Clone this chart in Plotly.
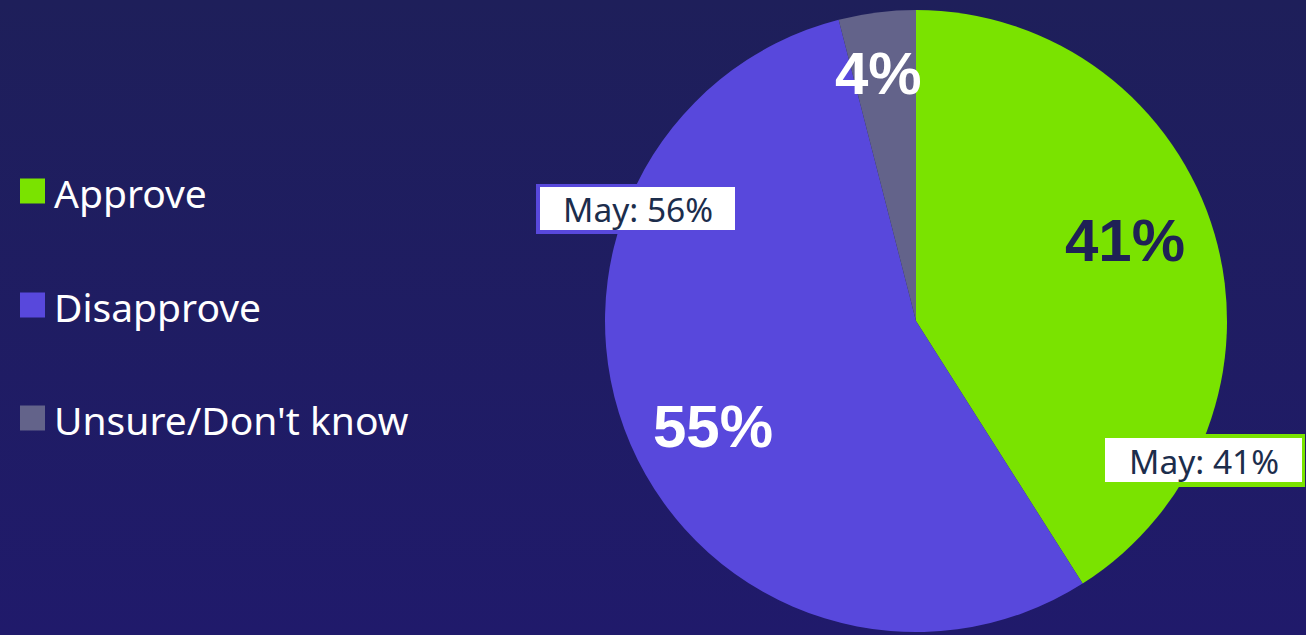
import base64
import plotly.graph_objects as go

W, H = 1306, 635

# ---- data ----
labels = ["Approve", "Disapprove", "Unsure/Don't know"]
values = [41, 55, 4]
pct_text = ["41%", "55%", "4%"]
prior_labels = ["May: 41%", "May: 56%"]

# ---- style ----
colors = ["#7ae300", "#5848dc", "#63638a"]
pct_colors = ["#1f2155", "#ffffff", "#ffffff"]
bg_top, bg_bottom = "#1e1f5a", "#201a6b"

def px(x):
    return x / W

def py(y):
    return 1 - y / H

cx, cy, R = 916, 321, 311

fig = go.Figure()
fig.add_trace(go.Pie(
    labels=labels, values=values, sort=False, direction="clockwise", rotation=0,
    marker=dict(colors=colors, line=dict(width=0)),
    textinfo="none", hoverinfo="label+percent", showlegend=False,
    domain=dict(x=[px(cx - R), px(cx + R)], y=[py(cy + R), py(cy - R)]),
))

annotations = []
shapes = []

# percent labels (positions in px)
pct_pos = [(1125, 240), (713, 426), (878, 73)]
for t, c, (x, y) in zip(pct_text, pct_colors, pct_pos):
    annotations.append(dict(x=px(x), y=py(y), xref="paper", yref="paper", text=t,
                            showarrow=False, xanchor="center", yanchor="middle",
                            font=dict(family="Liberation Sans", size=60, color=c, weight="bold")))

# legend (manual)
leg_y = [191, 305, 418]
for lab, col, y in zip(labels, colors, leg_y):
    shapes.append(dict(type="rect", xref="paper", yref="paper", x0=px(20), x1=px(45),
                       y0=py(y + 12.5), y1=py(y - 12.5), fillcolor=col, line=dict(width=0)))
    annotations.append(dict(x=px(52), y=py(y + 1), xref="paper", yref="paper", text=lab,
                            showarrow=False, xanchor="left", yanchor="middle",
                            font=dict(family="Noto Sans", size=39, color="#ffffff")))

# callout boxes
boxes = [
    ((1101, 434, 1305, 487), (1105, 438, 1302, 482), colors[0], prior_labels[0]),
    ((536, 184, 733, 234), (540, 187, 735, 230), colors[1], prior_labels[1]),
]
for (o, i, bc, t) in boxes:
    shapes.append(dict(type="rect", xref="paper", yref="paper", x0=px(o[0]), x1=px(o[2]),
                       y0=py(o[3]), y1=py(o[1]), fillcolor=bc, line=dict(width=0)))
    shapes.append(dict(type="rect", xref="paper", yref="paper", x0=px(i[0]), x1=px(i[2]),
                       y0=py(i[3]), y1=py(i[1]), fillcolor="#ffffff", line=dict(width=0)))
    annotations.append(dict(x=px((i[0] + i[2]) / 2), y=py((i[1] + i[3]) / 2 + 1),
                            xref="paper", yref="paper", text=t, showarrow=False,
                            xanchor="center", yanchor="middle",
                            font=dict(family="Noto Sans", size=33.5, color="#1c2d4c")))

svg_src = ("<svg xmlns='http://www.w3.org/2000/svg' width='10' height='10' "
           "preserveAspectRatio='none'><defs><linearGradient id='g' x1='0' y1='0' x2='0' y2='1'>"
           f"<stop offset='0' stop-color='{bg_top}'/><stop offset='1' stop-color='{bg_bottom}'/>"
           "</linearGradient></defs><rect width='10' height='10' fill='url(#g)'/></svg>")
svg = "data:image/svg+xml;base64," + base64.b64encode(svg_src.encode()).decode()

fig.update_layout(
    width=W, height=H, autosize=False,
    margin=dict(l=0, r=0, t=0, b=0),
    paper_bgcolor=bg_top, plot_bgcolor="rgba(0,0,0,0)",
    shapes=shapes, annotations=annotations,
    images=[dict(source=svg, xref="paper", yref="paper", x=0, y=1, sizex=1, sizey=1,
                 sizing="stretch", layer="below", xanchor="left", yanchor="top")],
)

fig.write_html("out.html", config={"displayModeBar": False},
               post_script="document.body.style.margin='0';document.body.style.overflow='hidden';")
